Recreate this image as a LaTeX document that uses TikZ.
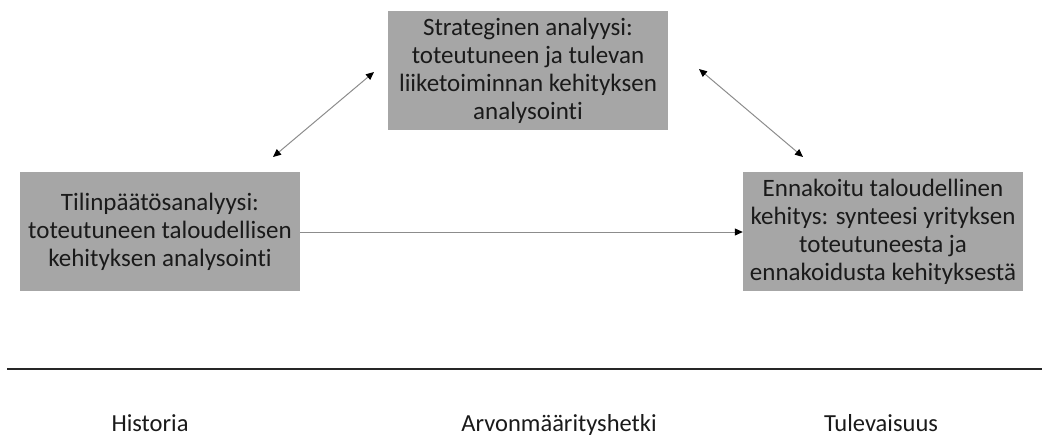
\documentclass[tikz,border=0pt]{standalone}
\usepackage{fontspec}
\setmainfont{Carlito}[Ligatures=NoCommon]
\usetikzlibrary{arrows.meta}
\definecolor{boxgray}{HTML}{A6A6A6}
\definecolor{linegray}{HTML}{8C8C8C}
\definecolor{txt}{HTML}{1A1A1A}
\begin{document}
\begin{tikzpicture}[x=1pt,y=-1pt,
  boxnode/.style={fill=boxgray, draw=none, minimum width=280pt, minimum height=119pt,
    align=center, inner sep=0pt, text=txt, font=\fontsize{25}{28}\selectfont},
  lbl/.style={text=txt, font=\fontsize{24.5}{26}\selectfont, inner sep=0pt, anchor=base},
  conn/.style={draw=linegray, line width=1pt, {Triangle[length=8pt,width=7pt,color=black]}-{Triangle[length=8pt,width=7pt,color=black]}},
  conn1/.style={draw=linegray, line width=1pt, -{Triangle[length=8pt,width=7pt,color=black]}}
]
\useasboundingbox (0,0) rectangle (1042,437);
\node[boxnode] (top) at (528,70.5) {Strateginen analyysi:\\toteutuneen ja tulevan\\liiketoiminnan kehityksen\\analysointi};
\node[boxnode] (left) at (160,231.5) {Tilinpäätösanalyysi:\\toteutuneen taloudellisen\\kehityksen analysointi};
\node[boxnode] (right) at (883,231.5) {Ennakoitu taloudellinen\\kehitys: synteesi yrityksen\\toteutuneesta ja\\ennakoidusta kehityksestä};
\coordinate (a1) at (273,157);
\coordinate (a2) at (374,72);
\coordinate (b1) at (699,69);
\coordinate (b2) at (803,157);
\draw[conn] (a1) -- (a2);
\draw[conn] (b1) -- (b2);
\draw[conn1] (left.east |- 0,232) -- (right.west |- 0,232);
\coordinate (l1) at (7,369);
\coordinate (l2) at (1042,369);
\draw[line width=2pt, draw=black!85] (l1) -- (l2);
\node[lbl] (h) at (150,431) {Historia};
\node[lbl] (av) at (559,431) {Arvonmäärityshetki};
\node[lbl] (tu) at (881,431) {Tulevaisuus};
\end{tikzpicture}
\end{document}
